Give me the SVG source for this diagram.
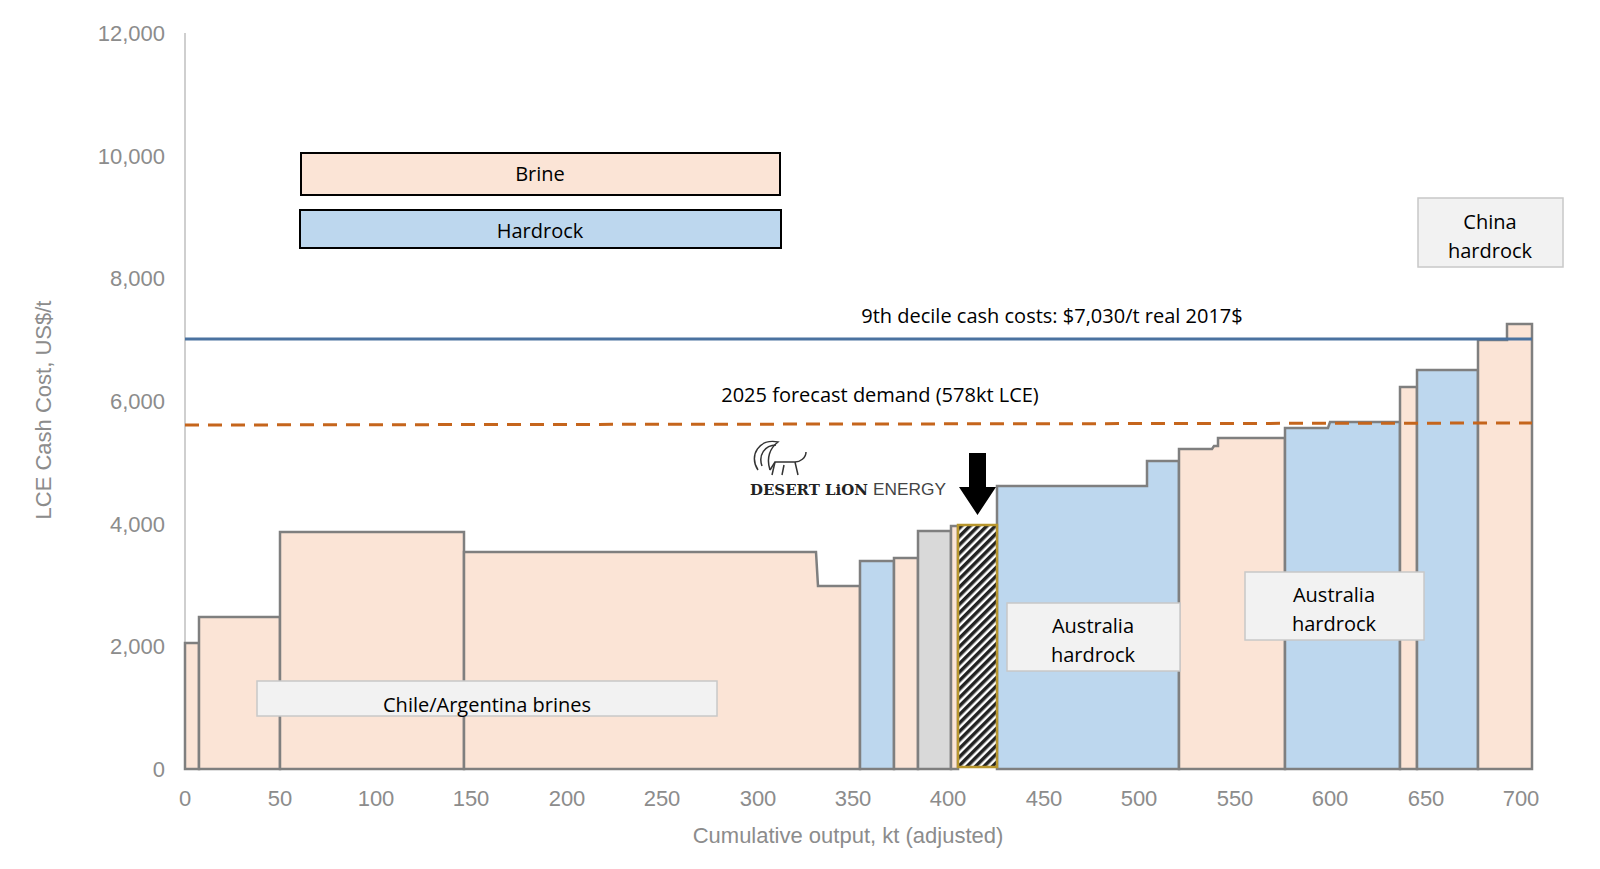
<svg xmlns="http://www.w3.org/2000/svg" width="1600" height="869" viewBox="0 0 1600 869">
<style>
.ax{font-family:"Liberation Sans",Arial,sans-serif;font-size:22px;fill:#8c8c8c}
.lb{font-family:"Open Sans","Liberation Sans",sans-serif;font-size:20px;fill:#000}
.p{fill:#fbe4d6;stroke:#7f7f7f;stroke-width:2.5}
.b{fill:#bdd7ee;stroke:#7f7f7f;stroke-width:2.5}
.g{fill:#d9d9d9;stroke:#7f7f7f;stroke-width:2.5}
.box{fill:#f2f2f2;stroke:#c8c8c8;stroke-width:1.5}
</style>
<defs>
<pattern id="h" width="6" height="6" patternUnits="userSpaceOnUse" patternTransform="rotate(45)">
<rect width="6" height="6" fill="#fff"/><rect width="3.5" height="6" fill="#222"/>
</pattern>
</defs>
<rect width="1600" height="869" fill="#fff"/>
<g id="axes">
<line x1="185" y1="33" x2="185" y2="769" stroke="#bfbfbf" stroke-width="1.5"/>
<g class="ax" text-anchor="end">
<text x="165" y="777">0</text><text x="165" y="654">2,000</text><text x="165" y="532">4,000</text>
<text x="165" y="409">6,000</text><text x="165" y="286">8,000</text><text x="165" y="164">10,000</text><text x="165" y="41">12,000</text>
</g>
<g class="ax" text-anchor="middle">
<text x="185" y="806">0</text><text x="280" y="806">50</text><text x="376" y="806">100</text><text x="471" y="806">150</text>
<text x="567" y="806">200</text><text x="662" y="806">250</text><text x="758" y="806">300</text><text x="853" y="806">350</text>
<text x="948" y="806">400</text><text x="1044" y="806">450</text><text x="1139" y="806">500</text><text x="1235" y="806">550</text>
<text x="1330" y="806">600</text><text x="1426" y="806">650</text><text x="1521" y="806">700</text>
<text x="848" y="843">Cumulative  output, kt (adjusted)</text>
<text transform="translate(51,410) rotate(-90)">LCE Cash Cost, US$/t</text>
</g>
</g>
<g id="bars">
<rect class="p" x="185" y="643" width="14" height="126"/>
<rect class="p" x="199" y="617" width="81" height="152"/>
<rect class="p" x="280" y="532" width="184" height="237"/>
<polygon class="p" points="464,769 464,552 816,552 818,586 860,586 860,769"/>
<rect class="b" x="860" y="561" width="34" height="208"/>
<rect class="p" x="894" y="558" width="24" height="211"/>
<rect class="g" x="918" y="531" width="33" height="238"/>
<rect class="p" x="951" y="526" width="7" height="243"/>
<polygon class="b" points="997,769 997,486 1147,486 1147,461 1179,461 1179,769"/>
<polygon class="p" points="1179,769 1179,449 1212,449 1214,446 1218,446 1218,438 1285,438 1285,769"/>
<polygon class="b" points="1285,769 1285,428 1328,428 1330,422 1400,422 1400,769"/>
<rect class="p" x="1400" y="387" width="17" height="382"/>
<rect class="b" x="1417" y="370" width="61" height="399"/>
<polygon class="p" points="1478,769 1478,340 1507,340 1507,324 1532,324 1532,769"/>
<rect x="958" y="525" width="39" height="242" fill="url(#h)" stroke="#b8962e" stroke-width="2.5"/>
</g>
<g id="connectors">
<line x1="185" y1="339" x2="1532" y2="339" stroke="#4a72a0" stroke-width="3"/>
<line x1="185" y1="425" x2="1532" y2="423" stroke="#c5651c" stroke-width="3" stroke-dasharray="14,9"/>
<polygon points="969,453 986,453 986,487 996,487 977.5,515 959,487 969,487" fill="#000"/>
</g>
<g id="line-labels" class="lb">
<text x="1052" y="323" text-anchor="middle">9th decile cash costs: $7,030/t real 2017$</text>
<text x="880" y="402" text-anchor="middle">2025 forecast demand (578kt LCE)</text>
</g>
<g id="legend-brine"><rect x="301" y="153" width="479" height="42" fill="#fbe4d6" stroke="#000" stroke-width="2"/><text class="lb" x="540" y="181" text-anchor="middle">Brine</text></g>
<g id="legend-hardrock"><rect x="300" y="210" width="481" height="38" fill="#bdd7ee" stroke="#000" stroke-width="2"/><text class="lb" x="540" y="238" text-anchor="middle">Hardrock</text></g>
<g id="label-china"><rect class="box" x="1418" y="198" width="145" height="69"/><text class="lb" x="1490" y="229" text-anchor="middle">China</text><text class="lb" x="1490" y="258" text-anchor="middle">hardrock</text></g>
<g id="label-aus1"><rect class="box" x="1007" y="603" width="173" height="68"/><text class="lb" x="1093" y="633" text-anchor="middle">Australia</text><text class="lb" x="1093" y="662" text-anchor="middle">hardrock</text></g>
<g id="label-aus2"><rect class="box" x="1245" y="572" width="179" height="68"/><text class="lb" x="1334" y="602" text-anchor="middle">Australia</text><text class="lb" x="1334" y="631" text-anchor="middle">hardrock</text></g>
<g id="label-chile"><rect class="box" x="257" y="681" width="460" height="35"/><text class="lb" x="487" y="712" text-anchor="middle">Chile/Argentina brines</text></g>
<g id="logo">
<g fill="none" stroke="#333" stroke-width="1.5">
<path d="M758,470 C748,455 760,438 778,442 C770,448 766,458 770,470"/>
<path d="M762,466 C758,455 765,445 776,445"/>
<path d="M770,470 L775,462 L795,462 C800,462 806,458 806,452"/>
<path d="M775,462 L772,475 M795,462 L798,475 M784,465 L782,475"/>
</g>
<text x="750" y="495" font-family="'DejaVu Serif','Liberation Serif',serif" font-weight="bold" font-size="15" fill="#222" textLength="118" lengthAdjust="spacingAndGlyphs">DESERT LiON</text>
<text x="873" y="495" font-family="'Liberation Sans',sans-serif" font-size="17" fill="#444" textLength="73" lengthAdjust="spacingAndGlyphs">ENERGY</text>
</g>
</svg>
